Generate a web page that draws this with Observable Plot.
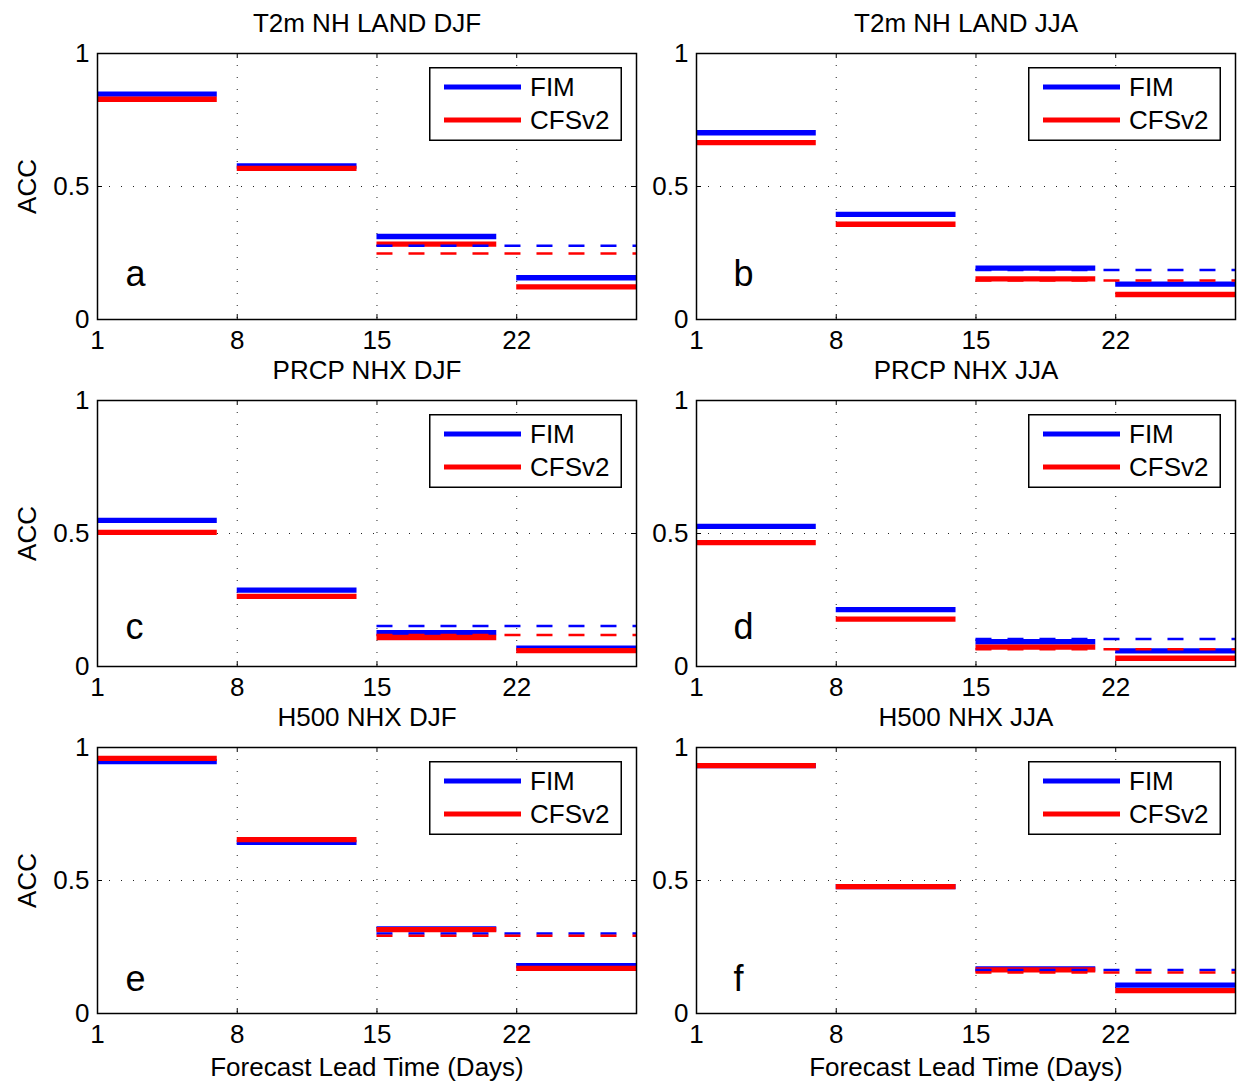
<!DOCTYPE html>
<html>
<head>
<meta charset="utf-8">
<script src="https://cdn.jsdelivr.net/npm/d3@7"></script>
<script src="https://cdn.jsdelivr.net/npm/@observablehq/plot@0.6"></script>
<style>
  body { margin: 0; background: #fff; }
  #fig { position: relative; width: 1243px; height: 1089px; background: #fff;
         font-family: "Liberation Sans", Arial, Helvetica, sans-serif; }
  .panel, .legend { position: absolute; }
</style>
</head>
<body>
<div id="fig"></div>
<script>
// Weekly forecast periods (days)
const weekStart = [1, 8, 15, 22];
const weekEnd = [7, 14, 21, 28];
// Combined weeks 3-4 period (days)
const weeks34Start = 15;
const weeks34End = 28;

const xTicks = [1, 8, 15, 22];
const yTicks = [0, 0.5, 1];

const titles = ["T2m NH LAND DJF", "T2m NH LAND JJA", "PRCP NHX DJF", "PRCP NHX JJA", "H500 NHX DJF", "H500 NHX JJA"];
const letters = ["a", "b", "c", "d", "e", "f"];
const seriesNames = ["FIM", "CFSv2"];

// Anomaly correlation per week, one row per panel
const fimWeekly = [
  [0.847, 0.577, 0.312, 0.157],
  [0.702, 0.395, 0.193, 0.133],
  [0.549, 0.287, 0.127, 0.069],
  [0.527, 0.214, 0.093, 0.059],
  [0.947, 0.643, 0.318, 0.180],
  [0.932, 0.477, 0.168, 0.107]
];
const cfsWeekly = [
  [0.828, 0.568, 0.283, 0.123],
  [0.665, 0.358, 0.153, 0.094],
  [0.504, 0.264, 0.109, 0.060],
  [0.466, 0.178, 0.073, 0.031],
  [0.959, 0.654, 0.315, 0.170],
  [0.932, 0.477, 0.164, 0.086]
];
// Anomaly correlation for the weeks 3-4 average
const fimWeeks34 = [0.277, 0.186, 0.152, 0.103, 0.301, 0.164];
const cfsWeeks34 = [0.248, 0.147, 0.118, 0.065, 0.292, 0.154];

const BLUE = "#0000ff", RED = "#ff0000";
const FONT = '"Liberation Sans", Arial, Helvetica, sans-serif';

// Panel geometry
const FRAME_W = 539, FRAME_H = 266, TICK = 5;
const colLeft = [0, 640];
const colMarginLeft = [97, 56];
const colMarginRight = [4, 8];
const rowTop = [0, 347, 694];
const MARGIN_TOP = 53;
// panel letter offsets (px from the frame's bottom-left corner)
const letterDx = [28, 37];
const letterDy = [-34, -28, -23];

const fig = document.getElementById("fig");

titles.forEach((title, p) => {
  const row = Math.floor(p / 2), col = p % 2;
  const marginBottom = row === 2 ? 76 : 28;
  const bars = weekStart.map((s, i) => ({start: s, end: weekEnd[i], fim: fimWeekly[p][i], cfs: cfsWeekly[p][i]}));
  const avg = [{start: weeks34Start, end: weeks34End, fim: fimWeeks34[p], cfs: cfsWeeks34[p]}];

  const marks = [
    Plot.gridX(xTicks.slice(1), {stroke: "#222", strokeOpacity: 1, strokeWidth: 1, strokeDasharray: "1,11"}),
    Plot.gridY([0.5], {stroke: "#222", strokeOpacity: 1, strokeWidth: 1, strokeDasharray: "1,11"}),
    // inward ticks on all four sides
    Plot.tickX(xTicks, {stroke: "black", insetTop: FRAME_H - TICK}),
    Plot.tickX(xTicks, {stroke: "black", insetBottom: FRAME_H - TICK}),
    Plot.tickY(yTicks, {stroke: "black", insetRight: FRAME_W - TICK}),
    Plot.tickY(yTicks, {stroke: "black", insetLeft: FRAME_W - TICK}),
    Plot.axisX(xTicks, {tickSize: 0, tickPadding: 11.5, label: null, tickFormat: d => String(d)}),
    Plot.axisY(yTicks, {tickSize: 0, tickPadding: 8, label: null, tickFormat: d => String(d)}),
    // weekly bars
    Plot.ruleY(bars, {y: "fim", x1: "start", x2: "end", stroke: BLUE, strokeWidth: 5.3}),
    Plot.ruleY(bars, {y: "cfs", x1: "start", x2: "end", stroke: RED, strokeWidth: 5.3}),
    // weeks 3-4 average
    Plot.ruleY(avg, {y: "fim", x1: "start", x2: "end", stroke: BLUE, strokeWidth: 2.5, strokeDasharray: "16,16"}),
    Plot.ruleY(avg, {y: "cfs", x1: "start", x2: "end", stroke: RED, strokeWidth: 2.5, strokeDasharray: "16,16"}),
    Plot.frame({stroke: "black", strokeWidth: 1.5}),
    Plot.text([title], {frameAnchor: "top", lineAnchor: "bottom", dy: -21.5, fontSize: 26}),
    Plot.text([letters[p]], {frameAnchor: "bottom-left", textAnchor: "start", lineAnchor: "bottom",
                             dx: letterDx[col], dy: letterDy[row], fontSize: 36})
  ];
  if (col === 0) marks.push(Plot.text(["ACC"], {frameAnchor: "left", textAnchor: "middle", rotate: -90, dx: -70, fontSize: 26}));
  if (row === 2) marks.push(Plot.text(["Forecast Lead Time (Days)"], {frameAnchor: "bottom", lineAnchor: "bottom", dy: 62, fontSize: 26}));

  const width = colMarginLeft[col] + FRAME_W + colMarginRight[col];
  const svg = Plot.plot({
    width,
    height: MARGIN_TOP + FRAME_H + marginBottom,
    marginLeft: colMarginLeft[col],
    marginRight: colMarginRight[col],
    marginTop: MARGIN_TOP,
    marginBottom,
    x: {domain: [1, 28]},
    y: {domain: [0, 1]},
    style: {fontFamily: FONT, fontSize: "26px", background: "transparent", overflow: "visible", color: "black"},
    marks
  });
  svg.classList.add("panel");
  svg.style.left = colLeft[col] + "px";
  svg.style.top = rowTop[row] + "px";
  fig.appendChild(svg);

  // legend box
  const lw = 193, lh = 74;
  const leg = d3.create("svg")
    .attr("class", "legend")
    .attr("width", lw).attr("height", lh)
    .style("left", (colLeft[col] + colMarginLeft[col] + 332) + "px")
    .style("top", (rowTop[row] + MARGIN_TOP + 14) + "px")
    .style("font-family", FONT).style("font-size", "26px");
  leg.append("rect").attr("x", 0.75).attr("y", 0.75).attr("width", lw - 1.5).attr("height", lh - 1.5)
    .attr("fill", "white").attr("stroke", "black").attr("stroke-width", 1.5);
  seriesNames.forEach((name, i) => {
    const yLine = 20 + i * 33;
    leg.append("line").attr("x1", 15).attr("x2", 92).attr("y1", yLine).attr("y2", yLine)
      .attr("stroke", i === 0 ? BLUE : RED).attr("stroke-width", 5);
    leg.append("text").attr("x", 101).attr("y", yLine + 9.3).attr("fill", "black").text(name);
  });
  fig.appendChild(leg.node());
});
</script>
</body>
</html>
